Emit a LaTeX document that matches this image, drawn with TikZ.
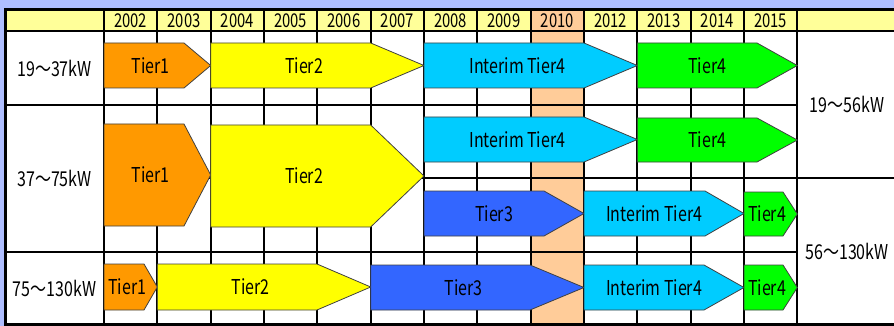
\documentclass[tikz,border=0pt]{standalone}
\usepackage{fontspec}
\setmainfont{Noto Sans CJK JP}[FakeStretch=0.78]
\usepackage{tikz}
\definecolor{tierbg}{RGB}{175,190,255}
\definecolor{tierhead}{RGB}{255,255,153}
\definecolor{tierpeach}{RGB}{255,204,153}
\definecolor{tierorange}{RGB}{255,153,0}
\definecolor{tieryellow}{RGB}{255,255,0}
\definecolor{tiercyan}{RGB}{0,204,255}
\definecolor{tiergreen}{RGB}{0,255,0}
\definecolor{tierblue}{RGB}{51,102,255}

% one arrow-shaped bar: name, colour, left, shoulder, tip, top, bottom, text
\newcommand{\tierbar}[8]{%
  \draw[barshape, fill=#2] (#3,#6) -- (#4,#6) -- (#5,{(#6+#7)/2}) -- (#4,#7) -- (#3,#7) -- cycle;
  \node[barlabel] (#1) at ({(2*#3+#4+#5)/4},{(#6+#7)/2}) {#8};}

\begin{document}
\begin{tikzpicture}[
  x=1pt, y=-1pt,
  gridline/.style={line width=2pt, black},
  border/.style={line width=3pt, black},
  barshape/.style={draw=black!75, line width=0.8pt},
  barlabel/.style={font=\fontsize{20.5}{22}\selectfont, inner sep=0pt},
  yearlabel/.style={font=\fontsize{19}{21}\selectfont, inner sep=0pt},
  rangelabel/.style={font=\fontsize{20.5}{22}\selectfont, inner sep=0pt}
]
  % Background and table
  \fill[tierbg] (0,0) rectangle (894,326);
  \useasboundingbox (0,0) rectangle (894,326);
  \fill[white] (5,10) rectangle (894,324);
  \fill[tierhead] (5,10) rectangle (894,31);
  \fill[tierpeach] (530.7,10) rectangle (584,324);

  % Grid
  \foreach \i in {0,...,13}
    \draw[gridline] ({104+\i*53.33},10) -- ({104+\i*53.33},324);
  \draw[gridline] (5,31) -- (894,31);
  \draw[gridline] (5,105) -- (797.3,105);
  \draw[gridline] (104,178) -- (894,178);
  \draw[gridline] (5,252) -- (797.3,252);
  \draw[border] (894,10) -- (5,10) -- (5,324) -- (894,324);

  % Years
  \foreach \yr [count=\i from 0] in {2002,2003,2004,2005,2006,2007,2008,2009,2010,2012,2013,2014,2015}
    \node[yearlabel] (y\yr) at ({130.67+\i*53.33},20.5) {\yr};

  % Power ranges
  \node[rangelabel] (r1) at (54.5,68) {19～37kW};
  \node[rangelabel] (r2) at (54.5,178.5) {37～75kW};
  \node[rangelabel] (r3) at (54.5,288) {75～130kW};
  \node[rangelabel] (r4) at (847,104.5) {19～56kW};
  \node[rangelabel] (r5) at (847,251) {56～130kW};

  % 19-37kW
  \tierbar{a1}{tierorange}{104}{184}{210.7}{43}{88}{Tier1}
  \tierbar{a2}{tieryellow}{210.7}{370.7}{424}{43}{88}{Tier2}
  \tierbar{a3}{tiercyan}{424}{584}{637.3}{43}{88}{Interim Tier4}
  \tierbar{a4}{tiergreen}{637.3}{757}{797.3}{43}{88}{Tier4}

  % 37-75kW
  \tierbar{b1}{tierorange}{104}{184}{210.7}{124}{226}{Tier1}
  \tierbar{b2}{tieryellow}{210.7}{370.7}{424}{125}{227}{Tier2}
  \tierbar{b3}{tiercyan}{424}{584}{637.3}{117}{162}{Interim Tier4}
  \tierbar{b4}{tiergreen}{637.3}{757}{797.3}{118}{162}{Tier4}
  \tierbar{b5}{tierblue}{424}{544}{584}{191}{236}{Tier3}
  \tierbar{b6}{tiercyan}{584}{705}{744}{191}{236}{Interim Tier4}
  \tierbar{b7}{tiergreen}{744}{783}{797.3}{192}{236}{Tier4}

  % 75-130kW
  \tierbar{c1}{tierorange}{104}{144}{157.3}{264}{310}{Tier1}
  \tierbar{c2}{tieryellow}{157.3}{317}{370.7}{264}{310}{Tier2}
  \tierbar{c3}{tierblue}{370.7}{530}{584}{265}{310}{Tier3}
  \tierbar{c4}{tiercyan}{584}{704}{744}{265}{310}{Interim Tier4}
  \tierbar{c5}{tiergreen}{744}{783}{797.3}{265}{310}{Tier4}

\end{tikzpicture}
\end{document}
